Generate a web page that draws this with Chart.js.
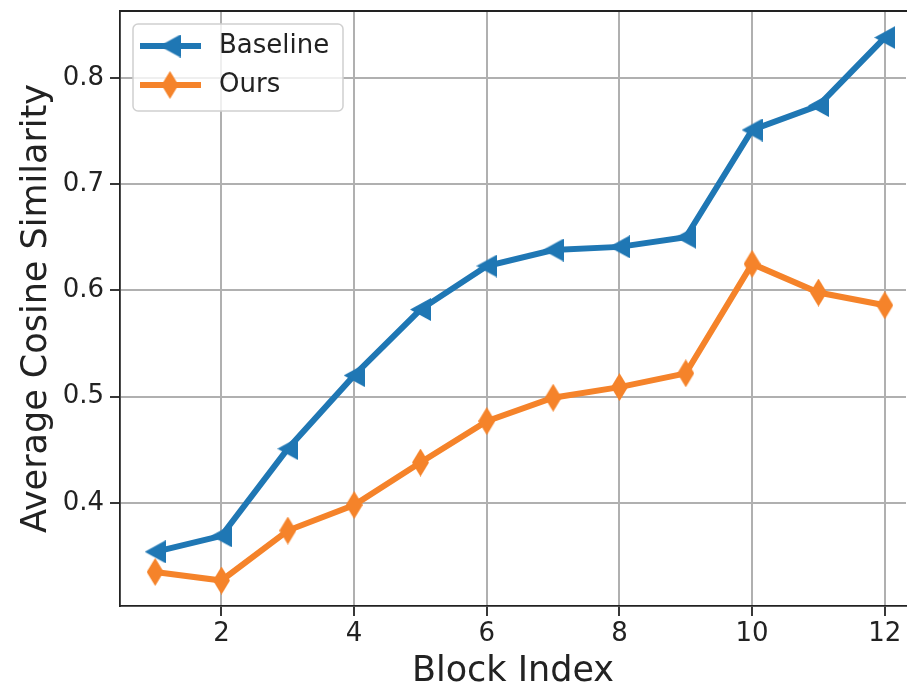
<!DOCTYPE html>
<html>
<head>
<meta charset="utf-8">
<script src="https://cdn.jsdelivr.net/npm/chart.js@4"></script>
<style>
  body { margin: 0; background: #fff; }
  canvas { display: block; }
</style>
</head>
<body>
<canvas id="graph" width="907" height="689"></canvas>
<script>
// data
const blockIndex = [1, 2, 3, 4, 5, 6, 7, 8, 9, 10, 11, 12];
const baselineValues = [0.354, 0.369, 0.451, 0.520, 0.582, 0.623, 0.638, 0.641, 0.650, 0.751, 0.774, 0.838];
const oursValues = [0.335, 0.327, 0.374, 0.398, 0.438, 0.477, 0.499, 0.509, 0.522, 0.625, 0.598, 0.586];
const xTicks = [2, 4, 6, 8, 10, 12];
const yTicks = [0.4, 0.5, 0.6, 0.7, 0.8];
const seriesNames = ["Baseline", "Ours"];

const BLUE = "#1f77b4";
const ORANGE = "#f5832a";
const FONT = "'DejaVu Sans', sans-serif";

// marker images (left triangle / thin diamond)
function makeMarker(kind, color) {
  const c = document.createElement("canvas");
  const w = kind === "tri" ? 21 : 17;
  const h = kind === "tri" ? 23 : 28;
  c.width = w;
  c.height = h;
  const g = c.getContext("2d");
  g.fillStyle = color;
  g.beginPath();
  if (kind === "tri") {
    g.moveTo(0, h / 2);
    g.lineTo(w, 0);
    g.lineTo(w, h);
  } else {
    g.moveTo(w / 2, 0);
    g.lineTo(w, h / 2);
    g.lineTo(w / 2, h);
    g.lineTo(0, h / 2);
  }
  g.closePath();
  g.fill();
  return c;
}
const triMarker = makeMarker("tri", BLUE);
const diaMarker = makeMarker("dia", ORANGE);

const toPoints = (vals) => vals.map((v, i) => ({ x: blockIndex[i], y: v }));

// top spine + legend
const framePlugin = {
  id: "frame",
  afterDraw(chart) {
    const { ctx, chartArea: a } = chart;
    ctx.save();
    ctx.strokeStyle = "#222";
    ctx.lineWidth = 1.8;
    ctx.beginPath();
    ctx.moveTo(a.left, a.top);
    ctx.lineTo(chart.width, a.top);
    ctx.stroke();

    // legend
    const lx = 133, ly = 24, lw = 210, lh = 87, r = 5;
    ctx.beginPath();
    ctx.roundRect(lx, ly, lw, lh, r);
    ctx.fillStyle = "rgba(255,255,255,0.8)";
    ctx.fill();
    ctx.strokeStyle = "#d0d0d0";
    ctx.lineWidth = 1.5;
    ctx.stroke();

    const rows = [
      { name: seriesNames[0], color: BLUE, img: triMarker, y: 46 },
      { name: seriesNames[1], color: ORANGE, img: diaMarker, y: 85 },
    ];
    rows.forEach((row) => {
      ctx.strokeStyle = row.color;
      ctx.lineWidth = 6;
      ctx.beginPath();
      ctx.moveTo(140, row.y);
      ctx.lineTo(201, row.y);
      ctx.stroke();
      ctx.drawImage(row.img, 170 - row.img.width / 2, row.y - row.img.height / 2);
      ctx.fillStyle = "#222";
      ctx.font = "26px " + FONT;
      ctx.textBaseline = "middle";
      ctx.fillText(row.name, 219, row.y);
    });
    ctx.restore();
  },
};

const config = {
  type: "line",
  data: {
    datasets: [
      {
        label: seriesNames[0],
        data: toPoints(baselineValues),
        borderColor: BLUE,
        backgroundColor: BLUE,
        borderWidth: 6,
        pointStyle: triMarker,
        pointRadius: 10,
        order: 1,
      },
      {
        label: seriesNames[1],
        data: toPoints(oursValues),
        borderColor: ORANGE,
        backgroundColor: ORANGE,
        borderWidth: 6,
        pointStyle: diaMarker,
        pointRadius: 10,
        order: 0,
      },
    ],
  },
  options: {
    responsive: false,
    animation: false,
    layout: { autoPadding: false, padding: { top: 11, right: 1, left: 0, bottom: 0 } },
    plugins: {
      legend: { display: false },
      tooltip: { enabled: false },
    },
    scales: {
      x: {
        type: "linear",
        min: 0.47,
        max: 12.32,
        afterBuildTicks: (s) => { s.ticks = xTicks.map((v) => ({ value: v })); },
        afterFit: (s) => {
          s.height = 83;
          s.paddingLeft = 0;
          s.paddingRight = 0;
        },
        grid: { color: "#b0b0b0", lineWidth: 2, tickColor: "#222", tickLength: 10, tickWidth: 1.8 },
        border: { color: "#222", width: 1.8 },
        ticks: { color: "#222", font: { family: FONT, size: 26 }, padding: 3, maxRotation: 0 },
        title: {
          display: true,
          text: "Block Index",
          color: "#222",
          font: { family: FONT, size: 35, lineHeight: 1 },
          padding: 0,
        },
      },
      y: {
        type: "linear",
        min: 0.303,
        max: 0.863,
        afterBuildTicks: (s) => { s.ticks = yTicks.map((v) => ({ value: v })); },
        afterFit: (s) => {
          s.width = 120;
          s.paddingTop = 0;
          s.paddingBottom = 0;
        },
        grid: { color: "#b0b0b0", lineWidth: 2, tickColor: "#222", tickLength: 10, tickWidth: 1.8 },
        border: { color: "#222", width: 1.8 },
        ticks: {
          color: "#222",
          font: { family: FONT, size: 26 },
          padding: 6,
          callback: (v) => v.toFixed(1),
        },
        title: {
          display: true,
          text: "Average Cosine Similarity",
          color: "#222",
          font: { family: FONT, size: 35, lineHeight: 1 },
          padding: { top: 19, bottom: 0 },
        },
      },
    },
  },
  plugins: [framePlugin],
};

new Chart(document.getElementById("graph"), config);
</script>
</body>
</html>
